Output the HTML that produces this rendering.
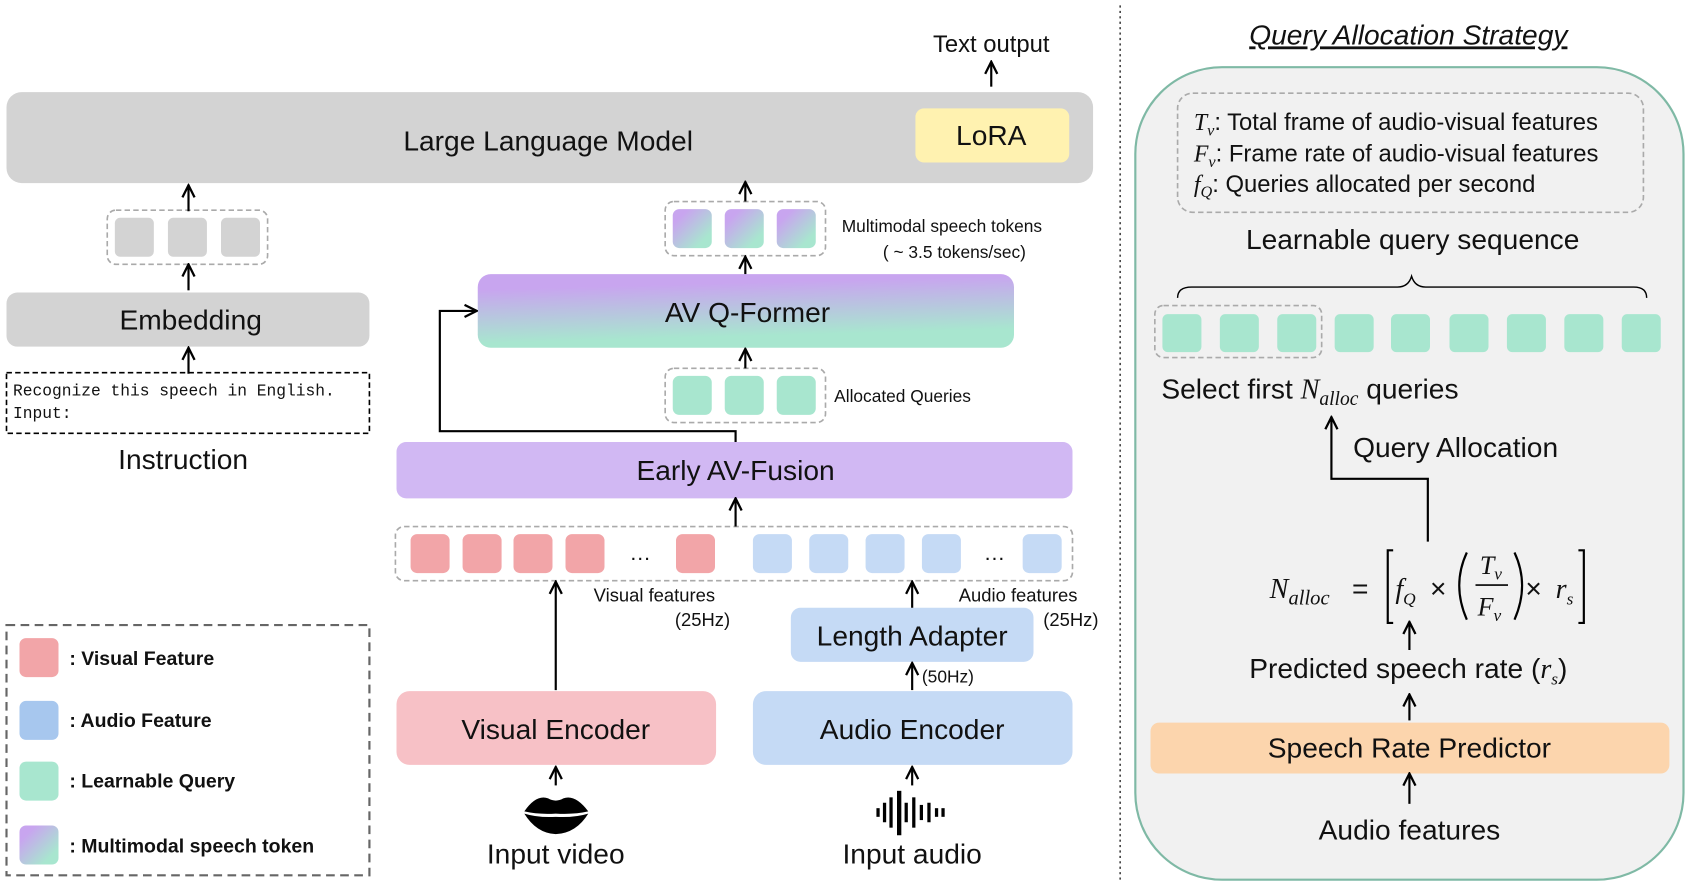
<!DOCTYPE html>
<html><head><meta charset="utf-8"><style>
html,body{margin:0;padding:0;background:#fff;}
svg{display:block;}
text{font-family:"Liberation Sans",Arial,sans-serif;fill:#111;}
.n{font-family:"Liberation Sans Narrow","Liberation Sans",sans-serif;}
.m{font-family:"Times New Roman","Liberation Serif",serif;font-style:italic;}
</style></head><body>
<svg width="1690" height="884" viewBox="0 0 1560 816" preserveAspectRatio="none" xmlns="http://www.w3.org/2000/svg">
<defs>
<linearGradient id="g" x1="0" y1="0" x2="1" y2="1"><stop offset="0.2" stop-color="#c8a5ef"/><stop offset="0.8" stop-color="#a8e6cf"/></linearGradient>
<linearGradient id="gq" x1="0.3" y1="0" x2="0.5" y2="1"><stop offset="0.15" stop-color="#c8a5ef"/><stop offset="0.85" stop-color="#a8e6cf"/></linearGradient>
<marker id="a" viewBox="0 0 10 10" refX="9" refY="5" markerWidth="7" markerHeight="7" orient="auto"><path d="M1,1 L9,5 L1,9" fill="none" stroke="#000" stroke-width="1.5"/></marker>
</defs>
<!-- LLM -->
<rect x="6" y="85" width="1003" height="84" rx="14" fill="#d3d3d3"/>
<text x="506" y="139" font-size="26" text-anchor="middle">Large Language Model</text>
<rect x="845" y="100" width="142" height="50" rx="8" fill="#fff2b0"/>
<text x="915" y="134" font-size="26" text-anchor="middle">LoRA</text>
<text x="915" y="48" font-size="22" text-anchor="middle" class="n">Text output</text>
<!-- left -->
<rect x="99" y="194" width="148" height="50" rx="8" fill="none" stroke="#aaa" stroke-dasharray="5,3" stroke-width="1.5"/>
<rect x="106" y="201" width="36" height="36" rx="5" fill="#d3d3d3"/>
<rect x="155" y="201" width="36" height="36" rx="5" fill="#d3d3d3"/>
<rect x="204" y="201" width="36" height="36" rx="5" fill="#d3d3d3"/>
<rect x="6" y="270" width="335" height="50" rx="10" fill="#d3d3d3"/>
<text x="176" y="304" font-size="26" text-anchor="middle">Embedding</text>
<rect x="6" y="344" width="335" height="56" fill="none" stroke="#000" stroke-dasharray="5,3" stroke-width="1.5"/>
<text x="12" y="365" font-size="15" style="font-family:'Liberation Mono',monospace">Recognize this speech in English.</text>
<text x="12" y="386" font-size="15" style="font-family:'Liberation Mono',monospace">Input:</text>
<text x="169" y="433" font-size="26" text-anchor="middle">Instruction</text>
<rect x="6" y="577" width="335" height="231" fill="none" stroke="#666" stroke-dasharray="8,5" stroke-width="2"/>
<rect x="18" y="589" width="36" height="36" rx="6" fill="#f2a5a8"/>
<rect x="18" y="647" width="36" height="36" rx="6" fill="#a7c7ee"/>
<rect x="18" y="703" width="36" height="36" rx="6" fill="#a8e6cf"/>
<rect x="18" y="762" width="36" height="36" rx="6" fill="url(#g)"/>
<g font-size="18" font-weight="bold"><text x="64" y="614">: Visual Feature</text><text x="64" y="671">: Audio Feature</text><text x="64" y="727">: Learnable Query</text><text x="64" y="787">: Multimodal speech token</text></g>
<!-- middle -->
<rect x="614" y="186" width="148" height="50" rx="8" fill="none" stroke="#aaa" stroke-dasharray="5,3" stroke-width="1.5"/>
<rect x="621" y="193" width="36" height="36" rx="6" fill="url(#g)"/>
<rect x="669" y="193" width="36" height="36" rx="6" fill="url(#g)"/>
<rect x="717" y="193" width="36" height="36" rx="6" fill="url(#g)"/>
<text x="777" y="214" font-size="16" class="n">Multimodal speech tokens</text>
<text x="815" y="238" font-size="16" class="n">( ~ 3.5 tokens/sec)</text>
<rect x="441" y="253" width="495" height="68" rx="12" fill="url(#gq)"/>
<text x="690" y="297" font-size="26" text-anchor="middle" class="n">AV Q-Former</text>
<rect x="614" y="340" width="148" height="50" rx="8" fill="none" stroke="#aaa" stroke-dasharray="5,3" stroke-width="1.5"/>
<rect x="621" y="347" width="36" height="36" rx="6" fill="#a8e6cf"/>
<rect x="669" y="347" width="36" height="36" rx="6" fill="#a8e6cf"/>
<rect x="717" y="347" width="36" height="36" rx="6" fill="#a8e6cf"/>
<text x="770" y="371" font-size="16" class="n">Allocated Queries</text>
<rect x="366" y="408" width="624" height="52" rx="9" fill="#d1b8f3"/>
<text x="679" y="443" font-size="26" text-anchor="middle" class="n">Early AV-Fusion</text>
<rect x="365" y="486" width="625" height="50" rx="8" fill="none" stroke="#aaa" stroke-dasharray="5,3" stroke-width="1.5"/>
<g fill="#f2a5a8"><rect x="379" y="493" width="36" height="36" rx="6"/><rect x="427" y="493" width="36" height="36" rx="6"/><rect x="474" y="493" width="36" height="36" rx="6"/><rect x="522" y="493" width="36" height="36" rx="6"/><rect x="624" y="493" width="36" height="36" rx="6"/></g>
<g fill="#c5daf5"><rect x="695" y="493" width="36" height="36" rx="6"/><rect x="747" y="493" width="36" height="36" rx="6"/><rect x="799" y="493" width="36" height="36" rx="6"/><rect x="851" y="493" width="36" height="36" rx="6"/><rect x="944" y="493" width="36" height="36" rx="6"/></g>
<text x="591" y="517" font-size="20" text-anchor="middle">…</text>
<text x="918" y="517" font-size="20" text-anchor="middle">…</text>
<text x="548" y="555" font-size="17" class="n">Visual features</text>
<text x="623" y="578" font-size="17" class="n">(25Hz)</text>
<text x="885" y="555" font-size="17" class="n">Audio features</text>
<text x="963" y="578" font-size="17" class="n">(25Hz)</text>
<rect x="730" y="561" width="224" height="50" rx="9" fill="#c5daf5"/>
<text x="842" y="596" font-size="26" text-anchor="middle" class="n">Length Adapter</text>
<text x="851" y="630" font-size="16" class="n">(50Hz)</text>
<rect x="366" y="638" width="295" height="68" rx="12" fill="#f7c1c6"/>
<text x="513" y="682" font-size="26" text-anchor="middle" class="n">Visual Encoder</text>
<rect x="695" y="638" width="295" height="68" rx="12" fill="#c5daf5"/>
<text x="842" y="682" font-size="26" text-anchor="middle" class="n">Audio Encoder</text>
<path d="M484,749 Q495,733 506,737 Q513,741 520,737 Q531,733 543,749 Q530,752 513,751 Q497,752 484,749 Z" fill="#000"/>
<path d="M484,751 Q497,755 513,754 Q530,755 543,751 Q532,769 513,770 Q495,769 484,751 Z" fill="#000"/>
<g fill="#000"><rect x="809" y="746" width="3" height="8"/><rect x="815" y="741" width="3" height="18"/><rect x="821" y="736" width="3" height="28"/><rect x="828" y="730" width="4" height="41"/><rect x="835" y="741" width="3" height="18"/><rect x="842" y="736" width="3" height="28"/><rect x="849" y="743" width="3" height="14"/><rect x="856" y="741" width="3" height="18"/><rect x="863" y="746" width="3" height="8"/><rect x="869" y="746" width="3" height="8"/></g>
<text x="513" y="797" font-size="26" text-anchor="middle" class="n">Input video</text>
<text x="842" y="797" font-size="26" text-anchor="middle" class="n">Input audio</text>
<line x1="1034" y1="5" x2="1034" y2="812" stroke="#444" stroke-width="1.5" stroke-dasharray="2,3"/>
<!-- right -->
<text x="1300" y="41" font-size="26" text-anchor="middle" font-style="italic" text-decoration="underline">Query Allocation Strategy</text>
<rect x="1048" y="62" width="506" height="750" rx="80" fill="#f1f1f1" stroke="#7fb9a5" stroke-width="2"/>
<rect x="1087" y="86" width="430" height="110" rx="14" fill="none" stroke="#aaa" stroke-dasharray="5,3" stroke-width="1.5"/>
<g font-size="22">
<text x="1102" y="120"><tspan class="m">T<tspan font-size="15" dy="5">v</tspan></tspan><tspan dy="-5">: Total frame of audio-visual features</tspan></text>
<text x="1102" y="149"><tspan class="m">F<tspan font-size="15" dy="5">v</tspan></tspan><tspan dy="-5">: Frame rate of audio-visual features</tspan></text>
<text x="1102" y="177"><tspan class="m">f<tspan font-size="15" dy="5">Q</tspan></tspan><tspan dy="-5">: Queries allocated per second</tspan></text>
</g>
<text x="1304" y="230" font-size="26" text-anchor="middle">Learnable query sequence</text>
<path d="M1087,275 Q1087,265 1100,265 L1290,265 Q1300,265 1303,255 Q1306,265 1316,265 L1508,265 Q1520,265 1520,275" fill="none" stroke="#000" stroke-width="1.3"/>
<rect x="1066" y="282" width="154" height="48" rx="8" fill="none" stroke="#aaa" stroke-dasharray="5,3" stroke-width="1.5"/>
<g fill="#a8e6cf"><rect x="1073" y="290" width="36" height="35" rx="5"/><rect x="1126" y="290" width="36" height="35" rx="5"/><rect x="1179" y="290" width="36" height="35" rx="5"/><rect x="1232" y="290" width="36" height="35" rx="5"/><rect x="1284" y="290" width="36" height="35" rx="5"/><rect x="1338" y="290" width="36" height="35" rx="5"/><rect x="1391" y="290" width="36" height="35" rx="5"/><rect x="1444" y="290" width="36" height="35" rx="5"/><rect x="1497" y="290" width="36" height="35" rx="5"/></g>
<text x="1072" y="368" font-size="26">Select first <tspan class="m">N<tspan font-size="18" dy="6">alloc</tspan></tspan><tspan dy="-6"> queries</tspan></text>
<text x="1249" y="422" font-size="26">Query Allocation</text>
<g font-size="26">
<text x="1172" y="552" class="m">N<tspan font-size="19" dy="6">alloc</tspan></text>
<text x="1248" y="552">=</text>
<text x="1288" y="552" class="m">f<tspan font-size="16" dy="6">Q</tspan></text>
<text x="1320" y="552">×</text>
<text x="1366" y="530" class="m" font-size="24">T<tspan font-size="16" dy="5">v</tspan></text>
<line x1="1362" y1="540" x2="1392" y2="540" stroke="#000" stroke-width="1.5"/>
<text x="1364" y="568" class="m" font-size="24">F<tspan font-size="16" dy="5">v</tspan></text>
<text x="1408" y="552">×</text>
<text x="1436" y="552" class="m">r<tspan font-size="16" dy="6">s</tspan></text>
</g>
<path d="M1354,510 Q1340,540 1354,572 M1398,510 Q1412,540 1398,572" fill="none" stroke="#000" stroke-width="2"/>
<path d="M1286,508 L1281,508 L1281,575 L1286,575 M1457,508 L1462,508 L1462,575 L1457,575" fill="none" stroke="#000" stroke-width="2"/>
<text x="1300" y="626" font-size="26" text-anchor="middle">Predicted speech rate (<tspan class="m">r<tspan font-size="16" dy="6">s</tspan></tspan><tspan dy="-6">)</tspan></text>
<rect x="1062" y="667" width="479" height="47" rx="8" fill="#fcd5ad"/>
<text x="1301" y="699" font-size="26" text-anchor="middle">Speech Rate Predictor</text>
<text x="1301" y="775" font-size="26" text-anchor="middle">Audio features</text>
<!-- arrows on top -->
<g stroke="#000" stroke-width="2" fill="none" marker-end="url(#a)">
<line x1="915" y1="80" x2="915" y2="57"/>
<line x1="174" y1="195" x2="174" y2="171"/>
<line x1="174" y1="268" x2="174" y2="244"/>
<line x1="174" y1="345" x2="174" y2="321"/>
<line x1="688" y1="186" x2="688" y2="168"/>
<line x1="688" y1="253" x2="688" y2="237"/>
<line x1="688" y1="340" x2="688" y2="322"/>
<polyline points="679,408 679,398 406,398 406,287 440,287"/>
<line x1="679" y1="486" x2="679" y2="460"/>
<line x1="513" y1="637" x2="513" y2="537"/>
<line x1="842" y1="561" x2="842" y2="537"/>
<line x1="842" y1="637" x2="842" y2="612"/>
<line x1="513" y1="725" x2="513" y2="708"/>
<line x1="842" y1="725" x2="842" y2="708"/>
<polyline points="1318,500 1318,442 1229,442 1229,385"/>
<line x1="1301" y1="600" x2="1301" y2="574"/>
<line x1="1301" y1="665" x2="1301" y2="641"/>
<line x1="1301" y1="742" x2="1301" y2="714"/>
</g>
</svg>
</body></html>
